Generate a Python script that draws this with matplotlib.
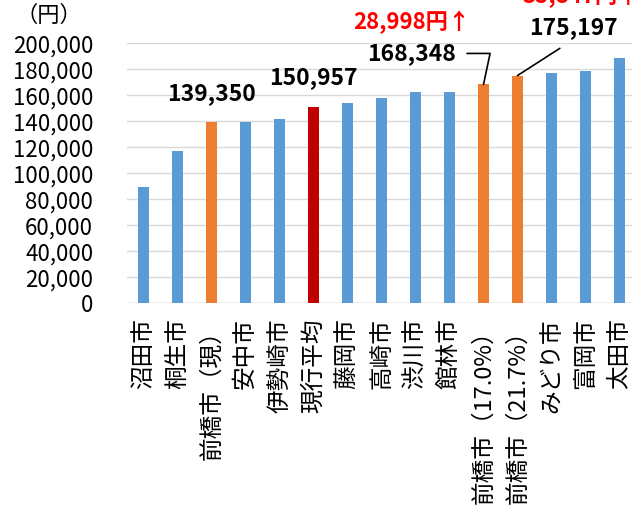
import matplotlib
matplotlib.use("Agg")
import matplotlib.pyplot as plt

plt.rcParams['font.family'] = ['Noto Sans CJK JP', 'DejaVu Sans']

categories = ["沼田市", "桐生市", "前橋市（現）", "安中市", "伊勢崎市", "現行平均", "藤岡市",
              "高崎市", "渋川市", "館林市", "前橋市（17.0%）", "前橋市（21.7%）", "みどり市",
              "富岡市", "太田市"]
values = [89500, 117400, 139350, 139700, 141800, 150957, 154400, 158200, 162800, 162800,
          168348, 175197, 176900, 178700, 188400]
kinds = ["city", "city", "maebashi", "city", "city", "average", "city", "city", "city", "city",
         "maebashi", "maebashi", "city", "city", "city"]
yticks = [0, 20000, 40000, 60000, 80000, 100000, 120000, 140000, 160000, 180000, 200000]
unit_label = "（円）"
increase_labels = {10: "28,998円↑", 11: "35,847円↑"}

color_map = {"city": "#5B9BD5", "maebashi": "#ED7D31", "average": "#C00000"}
colors = [color_map[k] for k in kinds]

fig = plt.figure(figsize=(6.32, 5.09), dpi=100)
ax = fig.add_axes([126.5 / 632, 1 - 303.3 / 509, 510 / 632, 260 / 509])

x = list(range(len(categories)))
ax.bar(x, values, width=0.32, color=colors, zorder=3)

ax.set_xlim(-0.5, len(categories) - 0.5)
ax.set_ylim(0, 200000)
ax.set_yticks(yticks)
ax.set_yticklabels([f"{v:,}" for v in yticks], fontsize=16)
ax.set_xticks(x)
ax.set_xticklabels(categories, rotation=90, va='top', ha='center', fontsize=17)
ax.tick_params(axis='both', length=0)
ax.tick_params(axis='y', pad=24)
ax.tick_params(axis='x', pad=11)
ax.grid(axis='y', color='#D9D9D9', lw=1.0, zorder=0)
for s in ax.spines.values():
    s.set_visible(False)
ax.axhline(0, color='#D9D9D9', lw=1.0, zorder=1)

px = 0.72  # points per pixel at 100 dpi

lab_kw = dict(textcoords='offset points', ha='center', va='center', fontsize=16.5,
              fontweight='bold', color='black', annotation_clip=False)
# plain labels
for i, dy in [(2, 29), (5, 29)]:
    ax.annotate(f"{values[i]:,}", xy=(i, values[i]), xytext=(0, dy * px), **lab_kw)

# label with elbow leader line
i = 10
ax.annotate(f"{values[i]:,}", xy=(i, values[i]), xytext=(-72 * px, 31 * px),
            arrowprops=dict(arrowstyle='-', color='black', lw=1.2, relpos=(1, 0.5),
                            connectionstyle='angle,angleA=0,angleB=78,rad=0',
                            shrinkA=6, shrinkB=0), **lab_kw)
# label with straight leader line
i = 11
ax.annotate(f"{values[i]:,}", xy=(i, values[i]), xytext=(56 * px, 47.5 * px),
            arrowprops=dict(arrowstyle='-', color='black', lw=1.2, relpos=(0.5, 0),
                            shrinkA=8, shrinkB=0), **lab_kw)

# red increase labels
for i, (dx, dy) in zip(increase_labels, [(-72, 62), (64, 79.5)]):
    ax.annotate(increase_labels[i], xy=(i, values[i]), xytext=(dx * px, dy * px),
                textcoords='offset points', ha='center', va='center', fontsize=16,
                fontweight='bold', color='#FF0000', annotation_clip=False)

fig.text(49 / 632, 1 - 15 / 509, unit_label, ha='center', va='center', fontsize=16)

fig.savefig("out.png", dpi=100)
